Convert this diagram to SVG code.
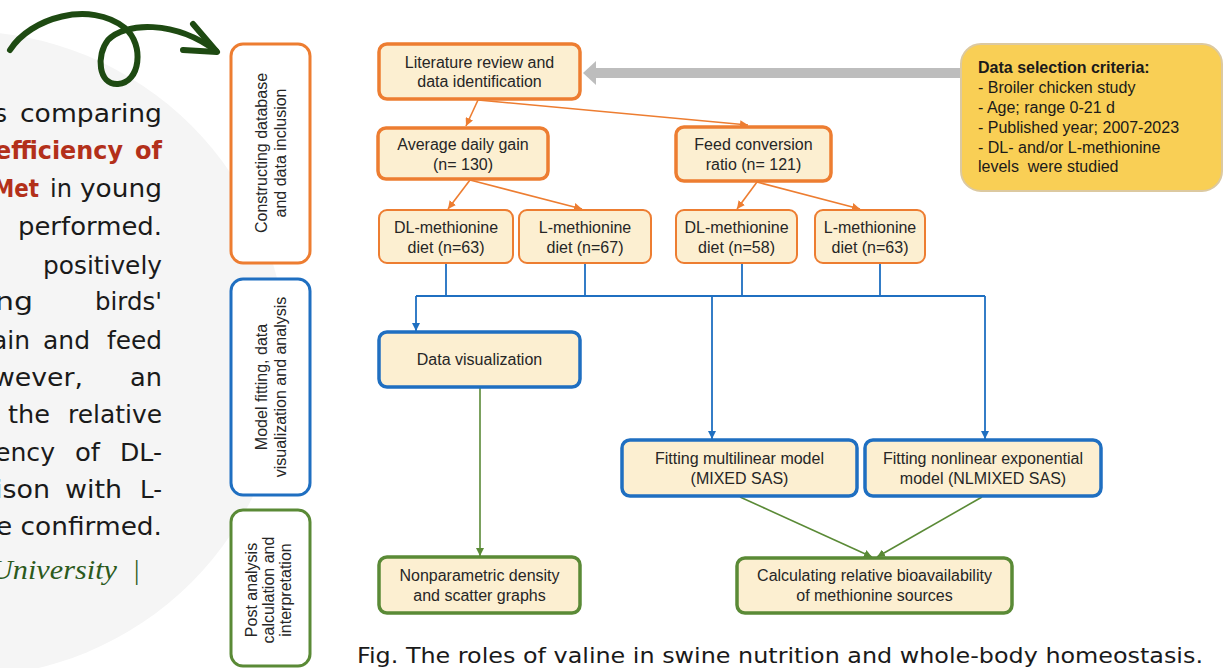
<svg xmlns="http://www.w3.org/2000/svg" width="1228" height="668" viewBox="0 0 1228 668">
<style>
.para{font-family:"DejaVu Sans",sans-serif;font-size:24px;fill:#1a1a1a}
.red{font-family:"DejaVu Sans",sans-serif;font-size:24px;font-weight:bold;fill:#b3301a}
.uni{font-family:"Liberation Serif",serif;font-style:italic;font-size:27px;fill:#2c5a1c}
.cap{font-family:"DejaVu Sans",sans-serif;font-size:22px;fill:#1a1a1a}
.stage{fill:#fff;stroke-width:3}
.node{fill:#fcefd1}
.or{stroke:#ed7d31}
.bl{stroke:#1f6fc1}
.gr{stroke:#5a8a36}
.thick{stroke-width:3.5}
.thin{stroke-width:2}
.t{font-family:"Liberation Sans",Arial,sans-serif;font-size:16px;fill:#262626;text-anchor:middle}
.crit{font-family:"Liberation Sans",Arial,sans-serif;font-size:16px;fill:#1a1a1a}
.co{fill:none;stroke:#ed7d31;stroke-width:1.6}
.cb{fill:none;stroke:#1f6fc1;stroke-width:1.8}
.cg{fill:none;stroke:#5a8a36;stroke-width:1.6}
</style>
<defs>
<marker id="ao" markerUnits="userSpaceOnUse" markerWidth="9" markerHeight="8" refX="8" refY="4" orient="auto"><path d="M0,0 L8,4 L0,8 z" fill="#ed7d31"/></marker>
<marker id="ab" markerUnits="userSpaceOnUse" markerWidth="9" markerHeight="8" refX="8" refY="4" orient="auto"><path d="M0,0 L8,4 L0,8 z" fill="#1f6fc1"/></marker>
<marker id="ag" markerUnits="userSpaceOnUse" markerWidth="9" markerHeight="8" refX="8" refY="4" orient="auto"><path d="M0,0 L8,4 L0,8 z" fill="#5a8a36"/></marker>
</defs>
<rect x="0" y="0" width="1228" height="668" fill="#ffffff"/>
<circle cx="-37" cy="354" r="323" fill="#f5f5f5"/>

<g id="paragraph">
<text class="para" x="7" y="122" text-anchor="end">s</text>
<text class="para" x="162" y="122" text-anchor="end" textLength="142" lengthAdjust="spacingAndGlyphs">comparing</text>
<text class="red" x="123" y="159" text-anchor="end" textLength="128" lengthAdjust="spacingAndGlyphs">efficiency</text>
<text class="red" x="162" y="159" text-anchor="end" textLength="27" lengthAdjust="spacingAndGlyphs">of</text>
<text class="red" x="39" y="197" text-anchor="end" textLength="46" lengthAdjust="spacingAndGlyphs">Met</text>
<text class="para" x="72" y="197" text-anchor="end" textLength="22" lengthAdjust="spacingAndGlyphs">in</text>
<text class="para" x="162" y="197" text-anchor="end" textLength="82" lengthAdjust="spacingAndGlyphs">young</text>
<text class="para" x="162" y="235" text-anchor="end" textLength="144" lengthAdjust="spacingAndGlyphs">performed.</text>
<text class="para" x="162" y="274" text-anchor="end" textLength="119" lengthAdjust="spacingAndGlyphs">positively</text>
<text class="para" x="33" y="310" text-anchor="end" textLength="38" lengthAdjust="spacingAndGlyphs">ng</text>
<text class="para" x="162" y="310" text-anchor="end" textLength="67" lengthAdjust="spacingAndGlyphs">birds'</text>
<text class="para" x="30" y="349" text-anchor="end" textLength="38" lengthAdjust="spacingAndGlyphs">ain</text>
<text class="para" x="90" y="349" text-anchor="end" textLength="47" lengthAdjust="spacingAndGlyphs">and</text>
<text class="para" x="162" y="349" text-anchor="end" textLength="55" lengthAdjust="spacingAndGlyphs">feed</text>
<text class="para" x="83" y="386" text-anchor="end" textLength="90" lengthAdjust="spacingAndGlyphs">wever,</text>
<text class="para" x="162" y="386" text-anchor="end" textLength="32" lengthAdjust="spacingAndGlyphs">an</text>
<text class="para" x="50" y="423" text-anchor="end" textLength="42" lengthAdjust="spacingAndGlyphs">the</text>
<text class="para" x="162" y="423" text-anchor="end" textLength="94" lengthAdjust="spacingAndGlyphs">relative</text>
<text class="para" x="55" y="461" text-anchor="end" textLength="60" lengthAdjust="spacingAndGlyphs">ency</text>
<text class="para" x="100" y="461" text-anchor="end" textLength="25" lengthAdjust="spacingAndGlyphs">of</text>
<text class="para" x="162" y="461" text-anchor="end" textLength="42" lengthAdjust="spacingAndGlyphs">DL-</text>
<text class="para" x="50" y="498" text-anchor="end" textLength="55" lengthAdjust="spacingAndGlyphs">ison</text>
<text class="para" x="122" y="498" text-anchor="end" textLength="57" lengthAdjust="spacingAndGlyphs">with</text>
<text class="para" x="162" y="498" text-anchor="end" textLength="22" lengthAdjust="spacingAndGlyphs">L-</text>
<text class="para" x="162" y="535" text-anchor="end" textLength="166" lengthAdjust="spacingAndGlyphs">e confirmed.</text>
<text class="uni" x="117" y="579" text-anchor="end" textLength="126" lengthAdjust="spacingAndGlyphs">University</text>
<text class="uni" x="140" y="579" text-anchor="end">|</text>
</g>

<g id="curly-arrow" fill="none" stroke="#1e4a12" stroke-width="6" stroke-linecap="round" stroke-linejoin="round">
<path d="M 10 50 C 30 18, 90 0, 125 28 C 145 45, 140 83, 118 84 C 98 85, 96 55, 108 40 C 125 22, 175 20, 216 51"/>
<path d="M 193 24 L 217 52 L 183 50"/>
</g>

<g id="stage-1">
<rect class="stage or" x="231" y="44" width="79" height="219" rx="12"/>
<g transform="translate(270,153) rotate(-90)"><text class="t" x="0" y="-3">Constructing database</text><text class="t" x="0" y="16">and data inclusion</text></g>
</g>
<g id="stage-2">
<rect class="stage bl" x="231" y="279" width="79" height="216" rx="12"/>
<g transform="translate(270,387) rotate(-90)"><text class="t" x="0" y="-3">Model fitting, data</text><text class="t" x="0" y="16">visualization and analysis</text></g>
</g>
<g id="stage-3">
<rect class="stage gr" x="231" y="510" width="79" height="156" rx="12"/>
<g transform="translate(270,590) rotate(-90)"><text class="t" x="0" y="-13">Post analysis</text><text class="t" x="0" y="4">calculation and</text><text class="t" x="0" y="21">interpretation</text></g>
</g>

<g id="connectors">
<path d="M 962 73 L 594 73" stroke="#bdbdbd" stroke-width="10" fill="none"/>
<path d="M 583 73 L 596 61 L 596 85 z" fill="#bdbdbd"/>
<path class="co" d="M 478 100 L 466 126" marker-end="url(#ao)"/>
<path class="co" d="M 478 100 L 748 125" marker-end="url(#ao)"/>
<path class="co" d="M 470 180 L 448 209" marker-end="url(#ao)"/>
<path class="co" d="M 470 180 L 582 209" marker-end="url(#ao)"/>
<path class="co" d="M 757 182 L 737 209" marker-end="url(#ao)"/>
<path class="co" d="M 757 182 L 860 209" marker-end="url(#ao)"/>
<path class="cb" d="M 446 263 V 296 M 585 263 V 296 M 742 263 V 296 M 880 263 V 296 M 416 296 H 985"/>
<path class="cb" d="M 416 296 V 331" marker-end="url(#ab)"/>
<path class="cb" d="M 712 296 V 439" marker-end="url(#ab)"/>
<path class="cb" d="M 985 296 V 439" marker-end="url(#ab)"/>
<path class="cg" d="M 480 388 V 556" marker-end="url(#ag)"/>
<path class="cg" d="M 740 497 L 872 557" marker-end="url(#ag)"/>
<path class="cg" d="M 982 497 L 877 557" marker-end="url(#ag)"/>
</g>

<g id="literature">
<rect class="node or thick" x="379" y="44" width="201" height="55" rx="8"/>
<text class="t" x="479.5" y="68">Literature review and</text>
<text class="t" x="479.5" y="87">data identification</text>
</g>
<g id="adg">
<rect class="node or thick" x="378" y="128" width="170" height="51" rx="8"/>
<text class="t" x="463" y="150">Average daily gain</text>
<text class="t" x="463" y="170">(n= 130)</text>
</g>
<g id="fcr">
<rect class="node or thick" x="676" y="127" width="155" height="54" rx="8"/>
<text class="t" x="753.5" y="150">Feed conversion</text>
<text class="t" x="753.5" y="170">ratio (n= 121)</text>
</g>
<g id="dl63">
<rect class="node or thin" x="379" y="210" width="134" height="53" rx="8"/>
<text class="t" x="446" y="233">DL-methionine</text>
<text class="t" x="446" y="253">diet (n=63)</text>
</g>
<g id="l67">
<rect class="node or thin" x="519" y="210" width="132" height="53" rx="8"/>
<text class="t" x="585" y="233">L-methionine</text>
<text class="t" x="585" y="253">diet (n=67)</text>
</g>
<g id="dl58">
<rect class="node or thin" x="676" y="210" width="121" height="53" rx="8"/>
<text class="t" x="736.5" y="233">DL-methionine</text>
<text class="t" x="736.5" y="253">diet (n=58)</text>
</g>
<g id="l63">
<rect class="node or thin" x="815" y="210" width="110" height="53" rx="8"/>
<text class="t" x="870" y="233">L-methionine</text>
<text class="t" x="870" y="253">diet (n=63)</text>
</g>
<g id="criteria">
<rect x="961" y="44" width="261" height="147" rx="20" fill="#f9cf55" stroke="#dcc9a0" stroke-width="2"/>
<text class="crit" x="978" y="73" font-weight="bold">Data selection criteria:</text>
<text class="crit" x="978" y="93">- Broiler chicken study</text>
<text class="crit" x="978" y="113">- Age; range 0-21 d</text>
<text class="crit" x="978" y="133">- Published year; 2007-2023</text>
<text class="crit" x="978" y="152.5">- DL- and/or L-methionine</text>
<text class="crit" x="978" y="172" xml:space="preserve">levels  were studied</text>
</g>
<g id="dataviz">
<rect class="node bl thick" x="379" y="332" width="201" height="55" rx="8"/>
<text class="t" x="479.5" y="365">Data visualization</text>
</g>
<g id="multilinear">
<rect class="node bl thick" x="622" y="440" width="235" height="56" rx="8"/>
<text class="t" x="739.5" y="464">Fitting multilinear model</text>
<text class="t" x="739.5" y="484">(MIXED SAS)</text>
</g>
<g id="nonlinear">
<rect class="node bl thick" x="865" y="440" width="236" height="56" rx="8"/>
<text class="t" x="983" y="464">Fitting nonlinear exponential</text>
<text class="t" x="983" y="484">model (NLMIXED SAS)</text>
</g>
<g id="nonparametric">
<rect class="node gr thick" x="379" y="557" width="201" height="56" rx="8"/>
<text class="t" x="479.5" y="581">Nonparametric density</text>
<text class="t" x="479.5" y="601">and scatter graphs</text>
</g>
<g id="calculating">
<rect class="node gr thick" x="737" y="558" width="275" height="55" rx="8"/>
<text class="t" x="874.5" y="581">Calculating relative bioavailability</text>
<text class="t" x="874.5" y="601">of methionine sources</text>
</g>

<text class="cap" x="357" y="663" textLength="846" lengthAdjust="spacingAndGlyphs">Fig. The roles of valine in swine nutrition and whole-body homeostasis.</text>
</svg>
